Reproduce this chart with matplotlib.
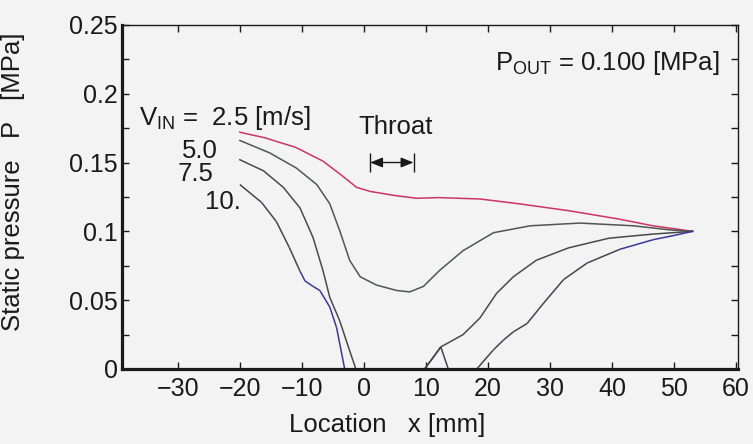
import matplotlib
matplotlib.use("Agg")
import matplotlib.pyplot as plt
import numpy as np
from matplotlib.collections import LineCollection
from matplotlib.ticker import FixedLocator

plt.rcParams['font.family'] = ['Liberation Sans', 'DejaVu Sans']
plt.rcParams['mathtext.fontset'] = 'custom'
plt.rcParams['mathtext.rm'] = 'Liberation Sans'
plt.rcParams['mathtext.it'] = 'Liberation Sans'

# Static pressure along the nozzle for four inlet velocities
x_25 = [-20, -16, -11, -6.6, -3.4, -1.2, 1, 5, 8.5, 12, 18.7, 25, 33, 41, 46.6, 53]
p_25 = [0.172, 0.168, 0.161, 0.151, 0.140, 0.132, 0.129, 0.126, 0.124, 0.1245,
        0.1235, 0.120, 0.115, 0.109, 0.104, 0.100]

x_50 = [-20, -15.2, -10.9, -7.6, -5.5, -3.9, -2.3, -0.6, 2, 5.3, 7.4, 9.6, 12.3,
        16, 20.9, 26.8, 34.8, 43.5, 49.4, 53]
p_50 = [0.166, 0.157, 0.146, 0.134, 0.120, 0.1005, 0.079, 0.067, 0.061, 0.057,
        0.056, 0.060, 0.072, 0.086, 0.099, 0.104, 0.106, 0.104, 0.101, 0.100]

x_75 = [-20, -16.2, -13, -10.3, -8.2, -6.6, -5.5, -3.9, -2.5, -1.3, 9.8, 12.4,
        14.4, 16, 18.7, 21.4, 24.1, 27.8, 33, 39.5, 46.6, 53]
p_75 = [0.152, 0.144, 0.132, 0.117, 0.0955, 0.0715, 0.052, 0.035, 0.016, 0.0,
        0.0, 0.016, 0.021, 0.025, 0.037, 0.055, 0.067, 0.079, 0.088, 0.095,
        0.098, 0.100]

x_10 = [-20, -16.5, -14.1, -12, -10.3, -9.5, -8.2, -7.1, -5.5, -4.4, -3.1, 9.8,
        12.4, 13.6, 18.2, 20.9, 22.5, 24.1, 26.3, 29, 32.2, 36, 41.3, 46.7, 50, 53]
p_10 = [0.134, 0.121, 0.107, 0.088, 0.071, 0.064, 0.060, 0.057, 0.045, 0.030,
        0.0, 0.0, 0.016, 0.0, 0.0, 0.014, 0.021, 0.027, 0.033, 0.048, 0.065,
        0.077, 0.087, 0.094, 0.097, 0.100]

curve_labels = ['5.0', '7.5', '10.']
throat_x = [1, 8]
p_out = 0.100

x_ticks = [-30, -20, -10, 0, 10, 20, 30, 40, 50, 60]
y_ticks = [0, 0.05, 0.1, 0.15, 0.2, 0.25]
y_tick_labels = ['0', '0.05', '0.1', '0.15', '0.2', '0.25']

ink = '#1a1a1a'
fs = 18.5
fs_tick = 18
bg = '#f3f3f3'
fig = plt.figure(figsize=(7.53, 4.44), dpi=100, facecolor=bg)
ax = fig.add_axes([0.162, 0.169, 0.818, 0.775], facecolor=bg)

lw = 1.1
ax.plot(x_25, p_25, color='#cc365e', lw=lw)
ax.plot(x_50, p_50, color='#505652', lw=lw)
ax.plot(x_75, p_75, color='#4a4a4a', lw=lw)

# the highest-velocity curve shades towards blue in its low-pressure part
pts = np.column_stack([x_10, p_10])
segs = np.stack([pts[:-1], pts[1:]], axis=1)
cols = []
for (xa, ya), (xb, yb) in zip(pts[:-1], pts[1:]):
    ym = 0.5 * (ya + yb)
    if (xb <= 0 and ym < 0.07) or ym < 0.002 or xa > 40:
        cols.append('#3a3a96')
    else:
        cols.append('#45454f')
ax.add_collection(LineCollection(segs, colors=cols, linewidths=lw))

ax.set_xlim(-39, 60.3)
ax.set_ylim(0, 0.25)

# axis frame: heavy left/bottom, light top/right
for side in ['left', 'bottom']:
    ax.spines[side].set_linewidth(2.3)
for side in ['top', 'right']:
    ax.spines[side].set_linewidth(1.0)
for s in ax.spines.values():
    s.set_color(ink)

ax.xaxis.set_major_locator(FixedLocator(x_ticks))
ax.set_xticklabels([str(v).replace('-', '\u2212') for v in x_ticks])
ax.yaxis.set_major_locator(FixedLocator(y_ticks))
ax.set_yticklabels(y_tick_labels)
ax.yaxis.set_minor_locator(FixedLocator([0.025, 0.075, 0.125, 0.175, 0.225]))
ax.tick_params(axis='both', which='both', direction='in', top=True, right=True,
               length=5, width=1.0, color=ink, labelsize=fs_tick, labelcolor=ink)
ax.tick_params(axis='x', which='major', pad=6)
ax.tick_params(axis='y', which='major', pad=3)

ax.set_xlabel('Location   x [mm]', fontsize=fs, color=ink)
ax.xaxis.set_label_coords(0.43, -0.128)
ax.set_ylabel('Static pressure   P   [MPa]', fontsize=fs, color=ink)
ax.yaxis.set_label_coords(-0.157, 0.545)

# curve labels
ax.text(-36.3, 0.182, r'V$_{\rm IN}$ =  2.5 [m/s]', fontsize=fs, va='center',
        ha='left', color=ink)
ax.text(-23.5, 0.158, curve_labels[0], fontsize=fs, va='center', ha='right',
        color=ink)
ax.text(-24.2, 0.1415, curve_labels[1], fontsize=fs, va='center', ha='right',
        color=ink)
ax.text(-19.8, 0.121, curve_labels[2], fontsize=fs, va='center', ha='right',
        color=ink)

ax.text(57.3, 0.222, r'P$_{\rm OUT}$ = ' + f'{p_out:.3f} [MPa]', fontsize=fs,
        va='center', ha='right', color=ink)

# throat marker
ty = 0.150
ax.annotate('', xy=(throat_x[0], ty), xytext=(throat_x[1], ty),
            arrowprops=dict(arrowstyle='<|-|>,head_length=0.75,head_width=0.3',
                            color=ink, lw=1.0, shrinkA=0, shrinkB=0))
ax.vlines(throat_x, ty - 0.007, ty + 0.007, color=ink, lw=1.0)
ax.text(np.mean(throat_x) + 0.6, 0.176, 'Throat', fontsize=fs, ha='center',
        va='center', color=ink)

fig.savefig('out.png', dpi=100, facecolor=bg)
